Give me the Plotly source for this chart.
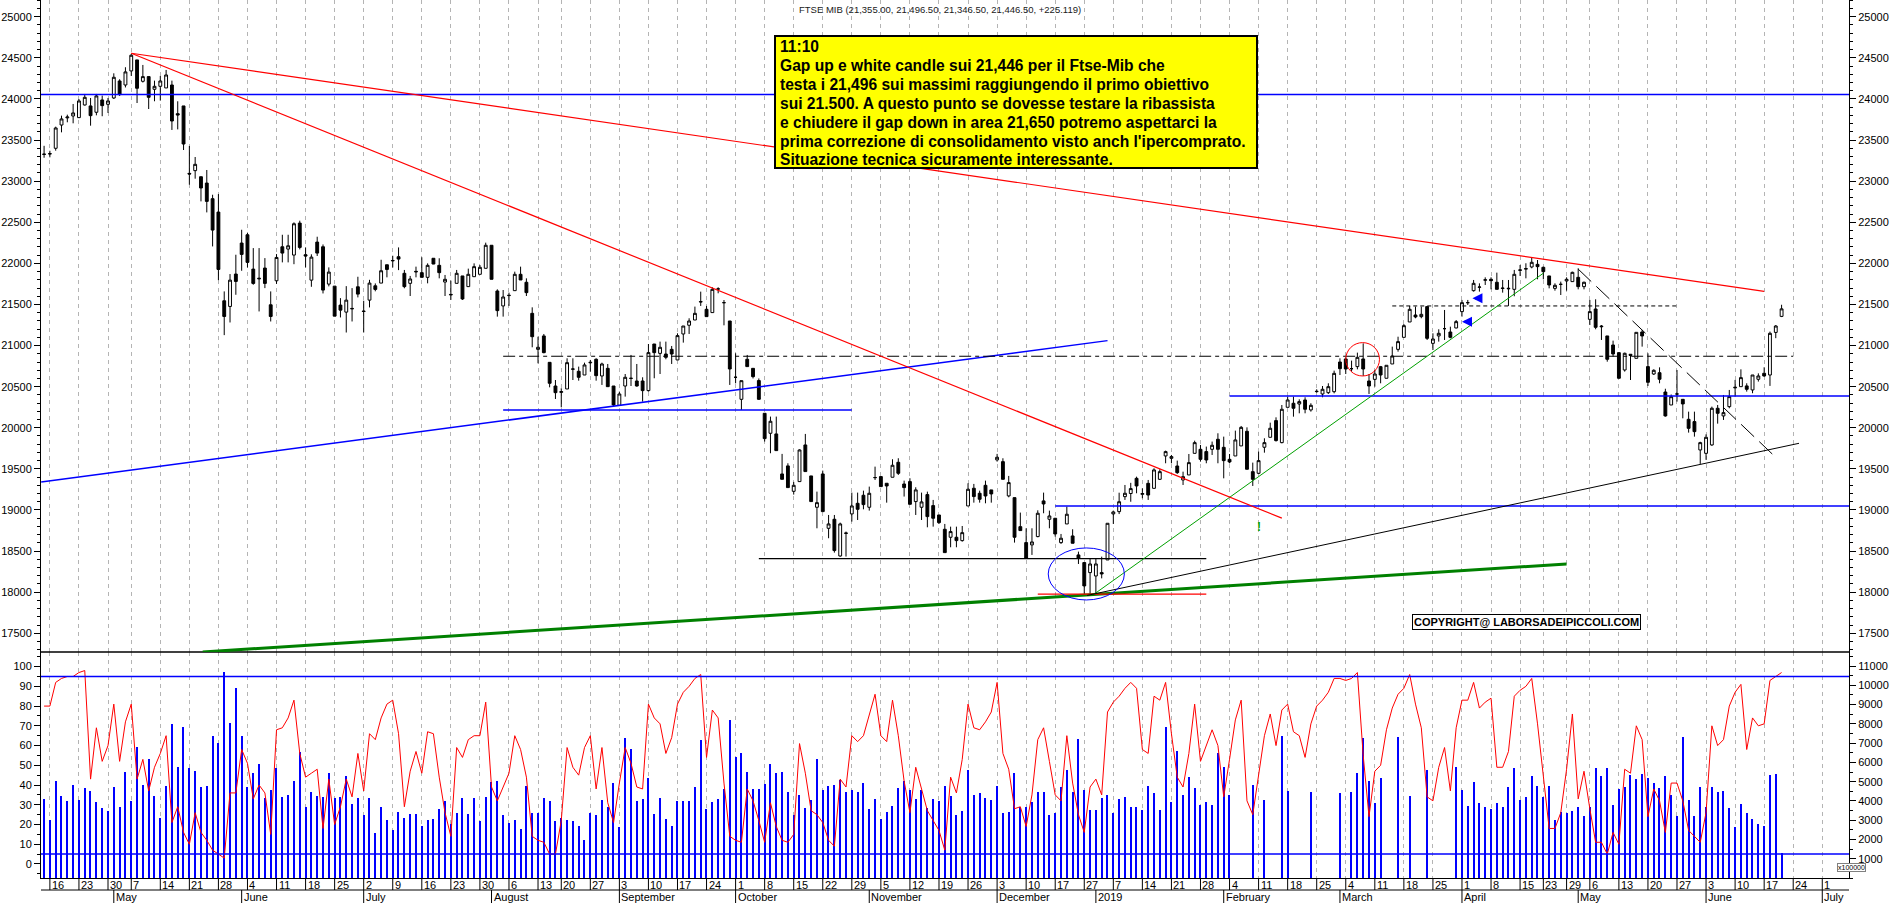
import plotly.graph_objects as go
import pandas as pd

# ---------------- data ----------------
HOLIDAYS = ["2018-05-01", "2018-08-15", "2018-12-24", "2018-12-25", "2018-12-26",
            "2018-12-31", "2019-01-01", "2019-04-19", "2019-04-22", "2019-05-01"]
GRID_SKIP = ["2019-01-02"]
START_DATE, END_DATE = "2018-04-13", "2019-07-12"

OPEN = [23330, 23330, 23400, 23683, 23770, 23793, 23773, 23927, 23915, 23838,
        23988, 23935, 24012, 24219, 24170, 24341, 24475, 24215, 24272, 24118,
        24154, 24134, 24170, 23821, 23915, 23095, 23128, 23054, 22977, 22787,
        22624, 21545, 21476, 21870, 22247, 22348, 21930, 21820, 21943, 21496,
        21788, 22202, 22174, 22101, 22490, 22105, 21796, 22259, 22202, 21748,
        21723, 21492, 21407, 21452, 21715, 21420, 21553, 21727, 21760, 21983,
        22030, 22081, 21879, 21757, 21895, 21887, 21830, 22062, 21976, 21773,
        21615, 21757, 21847, 21717, 21838, 21867, 21940, 22220, 21664, 21482,
        21608, 21668, 21867, 21770, 21392, 20954, 21117, 20796, 20508, 20430,
        20472, 20712, 20687, 20642, 20790, 20833, 20630, 20723, 20508, 20273,
        20508, 20600, 20569, 20569, 20452, 21019, 20905, 20897, 20954, 20825,
        21141, 21247, 21311, 21530, 21441, 21401, 21689, 21522, 21299, 20614,
        20346, 20833, 20723, 20574, 20176, 19933, 19925, 19438, 19536, 19227,
        19345, 19791, 19414, 19033, 19438, 18777, 18887, 18440, 18720, 18952,
        19081, 19179, 19033, 19394, 19406, 19325, 19398, 19580, 19316, 19345,
        19102, 19033, 19187, 19053, 18939, 18765, 18668, 18668, 18627, 19049,
        19264, 19203, 19300, 19244, 19609, 19588, 19171, 19150, 18797, 18603,
        18575, 18676, 19110, 18887, 18899, 18603, 18830, 18684, 18453, 18360,
        18238, 18197, 18238, 18392, 18952, 18980, 19162, 19200, 19385, 19190,
        19324, 19263, 19373, 19657, 19628, 19535, 19365, 19426, 19689, 19738,
        19710, 19738, 19860, 19762, 19616, 19657, 19779, 19957, 19466, 19446,
        19763, 19884, 20087, 19819, 20249, 20298, 20289, 20338, 20217, 20440,
        20411, 20427, 20439, 20800, 20837, 20719, 20744, 20837, 20569, 20589,
        20743, 20602, 20776, 20954, 21100, 21287, 21372, 21352, 21474, 21027,
        21117, 21206, 21165, 21214, 21413, 21522, 21668, 21709, 21795, 21806,
        21770, 21700, 21690, 21684, 21915, 21930, 21956, 21988, 21952, 21847,
        21696, 21745, 21786, 21778, 21830, 21717, 21319, 21445, 21238, 21117,
        21007, 20914, 20703, 20894, 20845, 21165, 20744, 20654, 20670, 20435,
        20277, 20411, 20346, 20103, 20075, 19730, 19689, 19791, 20237, 20144,
        20257, 20485, 20500, 20509, 20460, 20590, 20663, 20642, 21160, 21355.0]
HIGH = [23430, 23370, 23663, 23797, 23809, 23939, 24000, 24061, 24012, 24061,
        24041, 24012, 24312, 24240, 24386, 24548, 24475, 24414, 24272, 24223,
        24280, 24353, 24223, 23972, 23915, 23428, 23294, 23054, 23136, 22835,
        22843, 21659, 21870, 22105, 22409, 22370, 22186, 22186, 22064, 21659,
        22113, 22348, 22348, 22499, 22519, 22194, 22110, 22324, 22230, 21951,
        21723, 21577, 21723, 21699, 21837, 21545, 21800, 21756, 22044, 21983,
        22093, 22194, 21920, 21847, 21960, 22074, 22000, 22062, 22062, 21859,
        21790, 21920, 21847, 21936, 22000, 21980, 22252, 22220, 21684, 21676,
        21644, 21899, 21960, 21818, 21465, 21108, 21141, 20796, 20581, 20480,
        20845, 20845, 20744, 20792, 20825, 20845, 20792, 20776, 20508, 20440,
        20654, 20886, 20776, 20614, 21019, 21019, 21048, 21048, 20995, 21149,
        21238, 21332, 21474, 21656, 21482, 21709, 21709, 21554, 21299, 20906,
        20573, 20886, 20723, 20600, 20176, 20136, 20136, 19682, 19568, 19341,
        19738, 19925, 19414, 19223, 19479, 18939, 18939, 18846, 18737, 19211,
        19211, 19235, 19284, 19527, 19406, 19325, 19617, 19629, 19357, 19386,
        19276, 19211, 19223, 19122, 18939, 18830, 18797, 18797, 18805, 19325,
        19317, 19235, 19357, 19244, 19682, 19629, 19414, 19150, 18968, 18777,
        18777, 18996, 19211, 18992, 18899, 18708, 19041, 18765, 18493, 18360,
        18412, 18412, 18432, 18838, 18992, 19210, 19304, 19330, 19405, 19263,
        19365, 19507, 19495, 19722, 19669, 19600, 19466, 19681, 19843, 19791,
        19771, 19832, 19933, 19892, 19681, 19965, 20022, 20005, 19576, 19710,
        19872, 20062, 20127, 20277, 20379, 20379, 20346, 20371, 20298, 20468,
        20508, 20541, 20695, 20845, 20857, 20817, 20914, 21027, 20654, 20703,
        20752, 20760, 20987, 21108, 21262, 21482, 21474, 21474, 21474, 21149,
        21198, 21433, 21230, 21311, 21555, 21555, 21798, 21757, 21830, 21830,
        21887, 21798, 21798, 21920, 21980, 22001, 22074, 22041, 21960, 21847,
        21757, 21778, 21830, 21899, 21940, 21778, 21555, 21563, 21250, 21117,
        21060, 20914, 20914, 20894, 21161, 21190, 20906, 20711, 20735, 20475,
        20405, 20703, 20346, 20196, 20196, 19830, 19920, 20257, 20277, 20399,
        20460, 20582, 20711, 20541, 20642, 20662, 20736, 21170, 21250, 21496.5]
LOW = [23285, 23290, 23371, 23594, 23716, 23704, 23769, 23920, 23675, 23801,
       23790, 23830, 24000, 24037, 24140, 24280, 23951, 24200, 23878, 23972,
       23980, 24134, 23623, 23630, 23379, 22957, 23030, 22754, 22620, 22206,
       21796, 21127, 21281, 21618, 21910, 21950, 21740, 21415, 21699, 21293,
       21750, 22012, 22012, 21990, 22170, 21951, 21715, 22090, 21634, 21720,
       21358, 21342, 21159, 21293, 21586, 21159, 21464, 21660, 21760, 21830,
       21950, 21918, 21697, 21603, 21830, 21830, 21757, 21990, 21818, 21603,
       21555, 21757, 21555, 21717, 21838, 21867, 21940, 21806, 21352, 21352,
       21482, 21668, 21798, 21603, 20979, 20784, 20906, 20492, 20350, 20249,
       20472, 20581, 20573, 20642, 20683, 20573, 20521, 20500, 20265, 20273,
       20379, 20508, 20500, 20318, 20440, 20602, 20654, 20833, 20776, 20825,
       21036, 21141, 21311, 21482, 21352, 21401, 21636, 21246, 20521, 20541,
       20216, 20744, 20600, 20338, 19832, 19690, 19722, 19373, 19272, 19187,
       19345, 19467, 19102, 18777, 18980, 18656, 18481, 18432, 18433, 18858,
       18878, 19008, 18992, 19365, 19284, 19089, 19398, 19426, 19163, 19069,
       18939, 18878, 18789, 18797, 18830, 18481, 18546, 18546, 18615, 19049,
       19089, 19089, 19081, 19089, 19588, 19373, 19154, 18603, 18749, 18412,
       18453, 18668, 18960, 18777, 18676, 18587, 18830, 18595, 18343, 17966,
       17966, 17966, 18168, 18392, 18830, 18950, 19122, 19100, 19203, 19142,
       19122, 19263, 19365, 19568, 19568, 19438, 19304, 19426, 19689, 19588,
       19568, 19669, 19568, 19385, 19568, 19657, 19779, 19495, 19292, 19438,
       19697, 19884, 19832, 19811, 20249, 20135, 20176, 20176, 20196, 20427,
       20371, 20411, 20419, 20642, 20654, 20683, 20711, 20630, 20411, 20500,
       20541, 20602, 20776, 20926, 21100, 21287, 21332, 21332, 21068, 20946,
       21048, 21068, 21088, 21210, 21352, 21494, 21656, 21656, 21737, 21684,
       21684, 21644, 21482, 21600, 21847, 21818, 21940, 21806, 21806, 21696,
       21668, 21615, 21668, 21778, 21684, 21684, 21250, 21198, 21068, 20804,
       20865, 20600, 20683, 20581, 20845, 20987, 20508, 20642, 20541, 20135,
       20277, 20318, 20115, 19941, 19892, 19560, 19610, 19780, 20050, 20095,
       20237, 20379, 20500, 20440, 20420, 20562, 20622, 20509, 21090, 21346.5]
CLOSE = [23326, 23335, 23647, 23757, 23780, 23830, 23976, 24020, 23797, 24037,
         23919, 23976, 24264, 24053, 24329, 24532, 24130, 24272, 24020, 24154,
         24219, 24292, 23732, 23805, 23452, 23087, 23205, 22917, 22754, 22405,
         21926, 21354, 21796, 21780, 22109, 22012, 21756, 21813, 21756, 21354,
         22072, 22125, 22214, 22482, 22194, 22089, 22076, 22125, 21675, 21894,
         21358, 21431, 21553, 21448, 21626, 21415, 21760, 21683, 21910, 21926,
         22035, 22052, 21717, 21810, 21902, 21830, 21976, 21992, 21887, 21806,
         21622, 21879, 21567, 21867, 21960, 21952, 22220, 21806, 21425, 21591,
         21611, 21867, 21798, 21644, 21108, 20979, 20914, 20541, 20427, 20440,
         20792, 20715, 20614, 20764, 20796, 20634, 20776, 20500, 20277, 20411,
         20614, 20602, 20508, 20452, 20914, 20914, 20979, 20857, 20897, 21121,
         21238, 21299, 21392, 21534, 21352, 21684, 21689, 21522, 20715, 20614,
         20573, 20744, 20622, 20346, 19868, 20079, 19722, 19373, 19272, 19300,
         19730, 19467, 19102, 19089, 18980, 18830, 18506, 18830, 18716, 19049,
         19008, 19065, 19203, 19394, 19284, 19292, 19544, 19446, 19272, 19069,
         19244, 19098, 18919, 18899, 18846, 18481, 18737, 18627, 18724, 19252,
         19163, 19130, 19170, 19195, 19641, 19373, 19333, 18668, 18749, 18412,
         18611, 18960, 19073, 18927, 18708, 18656, 18948, 18595, 18412, 18076,
         18343, 18343, 18222, 18838, 18976, 19100, 19203, 19260, 19292, 19200,
         19182, 19487, 19466, 19710, 19649, 19454, 19405, 19576, 19819, 19616,
         19608, 19787, 19738, 19600, 19584, 19852, 20005, 19495, 19373, 19600,
         19819, 19994, 19844, 20225, 20338, 20237, 20318, 20225, 20273, 20443,
         20468, 20500, 20662, 20719, 20715, 20719, 20857, 20715, 20508, 20654,
         20642, 20760, 20873, 21048, 21242, 21441, 21348, 21380, 21088, 21080,
         21149, 21206, 21100, 21291, 21522, 21522, 21757, 21712, 21800, 21790,
         21684, 21696, 21696, 21867, 21920, 21936, 22013, 21960, 21899, 21737,
         21733, 21745, 21806, 21891, 21717, 21770, 21413, 21222, 21230, 20833,
         20898, 20602, 20906, 20880, 21161, 21117, 20553, 20699, 20590, 20144,
         20378, 20411, 20290, 19993, 19953, 19819, 19884, 20237, 20176, 20184,
         20379, 20492, 20610, 20468, 20642, 20630, 20630, 21149, 21238, 21446.5]
LAST_CHANGE = 225.119

OSC = [80, 80, 92, 94, 95, 95, 97, 98, 43, 69,
       52, 60, 81, 52, 72, 81, 43, 53, 37, 49,
       56, 65, 21, 29, 16, 10, 26, 16, 12, 7,
       5, 3, 36, 36, 58, 51, 33, 40, 36, 15,
       68, 69, 74, 83, 56, 44, 46, 48, 18, 43,
       20, 29, 43, 34, 56, 37, 66, 63, 74, 81,
       83, 66, 29, 47, 57, 46, 67, 66, 44, 26,
       14, 59, 54, 63, 65, 65, 82, 39, 32, 39,
       46, 65, 58, 44, 14, 12, 11, 5, 5, 22,
       59, 49, 45, 59, 65, 38, 59, 31, 21, 41,
       59, 51, 39, 38, 81, 74, 71, 56, 64, 81,
       87, 90, 94,
       96, 54, 78, 74, 41, 14, 12, 11, 38, 32,
       22, 11, 31, 19, 12, 11, 15, 61, 46, 27,
       25, 21, 12, 9, 43, 39, 65, 62, 65, 76,
       86, 65, 62, 83, 65, 42, 26, 49, 38, 27,
       22, 17, 7, 44, 36, 53, 81, 69, 68, 72,
       77, 92, 56, 48, 28, 29, 19, 35, 63, 69,
       52, 35, 32, 65, 41, 25, 16, 39, 43, 35,
       77, 82, 85, 89, 92, 89, 58, 56, 85, 83,
       92, 66, 44, 39, 56, 81, 52, 60, 68, 60,
       34, 53, 73, 83, 32, 25, 44, 65, 76, 60,
       78, 81, 67, 65, 54, 71, 80, 83, 87, 94,
       94, 93, 94, 97, 55, 24, 47, 50, 68, 79,
       86, 89, 96, 81, 69, 34, 32, 49, 59, 37,
       69, 83, 83, 92, 79, 82, 84, 49, 49, 57,
       85, 88, 90, 94, 71, 44, 18, 18, 26, 48,
       76, 33, 47, 28, 11, 11, 5, 16, 10, 48,
       46, 70, 63, 24, 38, 32, 16, 41, 41, 32,
       17, 14, 11, 26, 70, 60, 63, 80, 87, 91,
       58, 74, 70, 71, 93, 95, 97]

N = None
VOLUME = [4091, 3021, 5041, 4264, 4005, 4834, 4057, 4696, 4523, 3953,
          3642, 3487, 4748, 3711, 5508, 4005, 6803, 4834, 6181, 4264,
          3124, 4782, 7994, 5767, 7839, 5732, 5559, 4730, 4799, 7373,
          7027, 10689, 8063, 9860, 7373, 4730, 5456, 5922, 4160, 4575,
          5715, 4212, 4316, 5058, 6544, 3694, 4471, 4264, 4212, 5438,
          4178, 4212, 5300, 3832, 4160, 3280, 4160, 2330, 3694, 3021,
          2502, 3435, 3124, 3331, 3331, 2710, 3021, 3055, 3590, 4005,
          2813, 3366, 4143, 3331, 4178, 2934, 4229, 5007, 5041, 3280,
          2865, 3021, 2554, 4782, 3383, 3383, 4160, 4022, 2952, 3124,
          3003, 2969, 2675, 1967, 3383, 3245, 4040, 3694, 4938, 2641,
          7269, 6716, 4005, 4126, 5214, 3331, 4160, 3072, 2675, 4022,
          4022, 4022, 4748,
          7165, 3573, 3953, 4091, 4609, 8202, 6302, 6475, 5490, 4627,
          4627, 4886, 5922, 5473, 5508, 4489, 3245, 4316, 3625, 4057,
          6181, 4575, 4799, 4834, 5093, 4489, 4575, 4489, 4920, 3590,
          4109, 3072, 3418, 3746, 4661, 5058, 4575, 4109, 4575, 3625,
          4109, 4022, 4782, 4281, 3280, 3487, 5611, 4316, 4437, 4143,
          4057, 4799, 3366, 3418, 5438, 3677, 3660, 3970, 4489, 4489,
          3245, 3366, 4748, 5611, 4454, 7217, 4575, 3539, 3539, 4143,
          4316, 3366, 4109, 4229, 3677, 3711, 3539, 4799, 4437, 3539,
          7822, 3936, 6613, 4316, 5266, 4661, 3798, 3919, 3798, 6475,
          5784, 4316,
          N, N, N, 4834, N, 4057, N, N, 7390, 4540,
          N, N, N, 4489, N, N, N, N, 4437, N,
          4489, 5473, 7286, 5058, 3884, 5179, N, N, 7338, N,
          4281, N, N, 5628, N, N, N, N, 5784, 4575,
          3763, 5007, 3867, 3711, 3590, 3867, 3660, 4748, 5697, 4057,
          4229, 5300, 4799, 4195, 4799, 3021, 3400, 3366, 3487, 3711,
          3193, 3694, 5732, 5300, 5697, 3815, 4627, 4748, 5352, 5145,
          5404, 5179, 4920, 4661, 5300, 4333, 3193, 7338, 4057, 3228,
          4748, 3711, 4748, 4489, 4523, 3608, 2623, 3850, 3383, 3072,
          2813, 2675, 5352, 5404, 1294]

# analyst drawings: (start day index, start price, end day index, end price)
RED_TRENDS = [(15, 24556, 296, 21660), (15, 24556, 213, 18900)]
BLUE_RISING = (-0.5, 19340, 183, 21060)
BLUE_LEVELS = [(-0.53, 310.6, 24055), (79, 139, 20216), (174, 310.6, 19049), (204, 310.6, 20387)]
BLACK_LEVEL = (123, 200, 18408)
DASHDOT_LEVEL = (79, 301, 20870)
DOTTED_LEVEL = (232, 281, 21482)
RED_LEVEL = (171, 200, 17975)
GREEN_THIN = (180.5, 17966, 258, 21880)
BLACK_THIN = (179.5, 17960, 302, 19811)
GREEN_THICK = (27.3, 17272, 262, 18343)
DASHED_DOWN = (264, 21930, 298, 19640)
BLUE_ELLIPSE = (172.8, 17905, 185.9, 18538)
RED_CIRCLE = (224.0, 20630, 229.8, 21036)
ARROWS = [(245.8, 21575), (244.0, 21290)]
MARK = (209.1, 18796)
OSC_LEVELS = [95, 5]

NOTE_LINES = ["11:10",
              "Gap up e white candle sui 21,446 per il Ftse-Mib che",
              "testa i 21,496 sui massimi raggiungendo il primo obiettivo",
              "sui 21.500. A questo punto se dovesse testare la ribassista",
              "e chiudere il gap down in area 21,650 potremo aspettarci la",
              "prima correzione di consolidamento visto anch l'ipercomprato.",
              "Situazione tecnica sicuramente interessante."]
COPYRIGHT = "COPYRIGHT@ LABORSADEIPICCOLI.COM"

PRICE_TICKS = list(range(17500, 25001, 500))
OSC_TICKS = list(range(0, 101, 10))
VOL_TICKS = list(range(1000, 11001, 1000))

# ---------------- layout constants ----------------
W, H = 1890, 903
ML, MR, MT, MB = 41, 41, 0, 25
PW, PH = W - ML - MR, H - MT - MB
X_RANGE = [-0.53, 310.6]
PRICE_RANGE = [17272, 25204]
OSC_RANGE = [-7.1, 107.4]
VOL_RANGE = [0, 11730]
SPLIT = 0.2574
ROW1_Y, ROW2_Y, ROW_DIV, ROW_END = -0.008, -0.0222, -0.01367, -0.0285
FONT = "Liberation Sans, Arial, sans-serif"
GRID = "#b4b4b4"
NOTE_BOX = (775, 36, 1257, 168)  # pixel box of the comment
NOTE_TEXT_X, NOTE_FIRST_Y, NOTE_STEP = 779, 46.5, 18.9


def px_x(p):
    return (p - ML) / PW


def px_y(p):
    return 1 - (p - MT) / PH


cal = [d for d in pd.bdate_range(START_DATE, END_DATE) if d.strftime("%Y-%m-%d") not in HOLIDAYS]
n = len(CLOSE)
t = list(range(n))

week_idx = [i for i in range(1, len(cal))
            if cal[i].isocalendar()[1] != cal[i - 1].isocalendar()[1]
            and cal[i].strftime("%Y-%m-%d") not in GRID_SKIP and i <= X_RANGE[1]]
month_idx = [i for i in range(1, len(cal)) if cal[i].month != cal[i - 1].month and i <= X_RANGE[1]]

fig = go.Figure()

fig.add_trace(go.Bar(x=t, y=VOLUME, width=0.2, marker=dict(color="#0000ff", line=dict(width=0)),
                     xaxis="x", yaxis="y3", hoverinfo="skip"))
fig.add_trace(go.Scatter(x=t, y=OSC, mode="lines", line=dict(color="#ff0000", width=1),
                         xaxis="x", yaxis="y4", hoverinfo="skip"))
fig.add_trace(go.Candlestick(x=t, open=OPEN, high=HIGH, low=LOW, close=CLOSE,
                             increasing=dict(line=dict(color="black", width=1), fillcolor="white"),
                             decreasing=dict(line=dict(color="black", width=1), fillcolor="black"),
                             whiskerwidth=0, xaxis="x", yaxis="y", hoverinfo="skip"))
fig.add_trace(go.Scatter(x=[t[-1]], y=[CLOSE[-1]], mode="markers", marker=dict(opacity=0),
                         xaxis="x", yaxis="y2", hoverinfo="skip"))

axis_common = dict(showgrid=False, zeroline=False, showline=True, linecolor="black", linewidth=1,
                   ticks="outside", ticklen=6, tickcolor="black",
                   tickfont=dict(family=FONT, size=11, color="black"))

fig.update_layout(
    width=W, height=H, margin=dict(l=ML, r=MR, t=MT, b=MB),
    paper_bgcolor="white", plot_bgcolor="white", showlegend=False, bargap=0,
    font=dict(family=FONT, color="black"),
    xaxis=dict(domain=[0, 1], range=X_RANGE, anchor="y3", tickvals=week_idx, showticklabels=False,
               ticks="", showgrid=True, gridcolor=GRID, griddash="4px,4px", gridwidth=1,
               zeroline=False, showline=True, linecolor="black", rangeslider=dict(visible=False)),
    yaxis=dict(domain=[SPLIT, 1], range=PRICE_RANGE, anchor="x", side="left",
               tickvals=PRICE_TICKS, ticktext=[str(v) for v in PRICE_TICKS],
               minor=dict(dtick=100, tick0=0, ticks="outside", ticklen=3, tickcolor="black"),
               **axis_common),
    yaxis2=dict(range=PRICE_RANGE, overlaying="y", anchor="x", side="right",
                tickvals=PRICE_TICKS, ticktext=[str(v) for v in PRICE_TICKS],
                minor=dict(dtick=100, tick0=0, ticks="outside", ticklen=3, tickcolor="black"),
                **axis_common),
    yaxis3=dict(domain=[0, SPLIT], range=VOL_RANGE, anchor="x", side="right",
                tickvals=VOL_TICKS, ticktext=[str(v) for v in VOL_TICKS],
                minor=dict(dtick=500, tick0=0, ticks="outside", ticklen=3, tickcolor="black"),
                **axis_common),
    yaxis4=dict(range=OSC_RANGE, overlaying="y3", anchor="x", side="left",
                tickvals=OSC_TICKS, ticktext=[str(v) for v in OSC_TICKS],
                minor=dict(dtick=5, tick0=0, ticks="outside", ticklen=3, tickcolor="black"),
                **axis_common),
)


def seg(x0, y0, x1, y1, color, width=1.0, dash="solid", yref="y"):
    fig.add_shape(type="line", xref="x", yref=yref, x0=x0, y0=y0, x1=x1, y1=y1,
                  line=dict(color=color, width=width, dash=dash))


# panel separators and date rows
fig.add_shape(type="line", xref="paper", yref="paper", x0=0, x1=1, y0=SPLIT, y1=SPLIT,
              line=dict(color="black", width=1.5))
fig.add_shape(type="line", xref="paper", yref="paper", x0=0, x1=1, y0=ROW_DIV, y1=ROW_DIV,
              line=dict(color="black", width=1))
for i in week_idx:
    fig.add_shape(type="line", xref="x", yref="paper", x0=i, x1=i, y0=0, y1=ROW_DIV,
                  line=dict(color="black", width=1))
    fig.add_annotation(x=i, y=ROW1_Y, xref="x", yref="paper", text=str(cal[i].day), showarrow=False,
                       xanchor="left", yanchor="middle", font=dict(family=FONT, size=11, color="black"))
for i in month_idx:
    fig.add_shape(type="line", xref="x", yref="paper", x0=i, x1=i, y0=ROW_DIV, y1=ROW_END,
                  line=dict(color="black", width=1))
    label = str(cal[i].year) if cal[i].month == 1 else cal[i].strftime("%B")
    fig.add_annotation(x=i, y=ROW2_Y, xref="x", yref="paper", text=label, showarrow=False,
                       xanchor="left", yanchor="middle", font=dict(family=FONT, size=11, color="black"))

# oscillator levels
for lv in OSC_LEVELS:
    fig.add_shape(type="line", xref="paper", yref="y4", x0=0, x1=1, y0=lv, y1=lv,
                  line=dict(color="#0000ff", width=1.5))

# trend lines
GT = GREEN_THICK
seg(GT[0], GT[1], GT[2], GT[3], "#008000", 3)
for x0, x1, p in BLUE_LEVELS:
    seg(x0, p, x1, p, "#0000ff", 1.5)
seg(*BLUE_RISING, "#0000ff", 1.5)
seg(BLACK_LEVEL[0], BLACK_LEVEL[2], BLACK_LEVEL[1], BLACK_LEVEL[2], "black", 1.2)
seg(DASHDOT_LEVEL[0], DASHDOT_LEVEL[2], DASHDOT_LEVEL[1], DASHDOT_LEVEL[2], "black", 1.2, "12px,4px,4px,4px")
seg(DOTTED_LEVEL[0], DOTTED_LEVEL[2], DOTTED_LEVEL[1], DOTTED_LEVEL[2], "black", 1, "4px,3px")
seg(RED_LEVEL[0], RED_LEVEL[2], RED_LEVEL[1], RED_LEVEL[2], "#ff0000", 1.2)
seg(*GREEN_THIN, "#00a000", 1)
seg(*BLACK_THIN, "black", 1)
seg(*DASHED_DOWN, "black", 1, "18px,7px")
for r in RED_TRENDS:
    seg(*r, "#ff0000", 1.2)
fig.add_shape(type="circle", xref="x", yref="y", x0=BLUE_ELLIPSE[0], y0=BLUE_ELLIPSE[1],
              x1=BLUE_ELLIPSE[2], y1=BLUE_ELLIPSE[3], line=dict(color="#0000ff", width=1))
fig.add_shape(type="circle", xref="x", yref="y", x0=RED_CIRCLE[0], y0=RED_CIRCLE[1],
              x1=RED_CIRCLE[2], y1=RED_CIRCLE[3], line=dict(color="#ff0000", width=1))

for ax_, ay_ in ARROWS:
    fig.add_annotation(x=ax_, y=ay_, xref="x", yref="y", ax=11, ay=0, text="", showarrow=True,
                       arrowhead=2, arrowsize=0.8, arrowwidth=2.5, arrowcolor="#0000ff")
fig.add_annotation(x=MARK[0], y=MARK[1], xref="x", yref="y", text="<b>!</b>", showarrow=False,
                   font=dict(family=FONT, size=12, color="#00a000"))

# comment box (drawn over the trend lines)
fig.add_shape(type="rect", xref="paper", yref="paper",
              x0=px_x(NOTE_BOX[0]), x1=px_x(NOTE_BOX[2]), y0=px_y(NOTE_BOX[3]), y1=px_y(NOTE_BOX[1]),
              fillcolor="#ffff00", line=dict(color="black", width=2))
for k, line in enumerate(NOTE_LINES):
    fig.add_annotation(x=px_x(NOTE_TEXT_X), y=px_y(NOTE_FIRST_Y + k * NOTE_STEP), xref="paper",
                       yref="paper", text="<b>" + line + "</b>", showarrow=False,
                       xanchor="left", yanchor="middle", borderpad=0,
                       font=dict(family=FONT, size=15.6, color="black"))

# texts
title = "FTSE MIB ({:,.2f}, {:,.2f}, {:,.2f}, {:,.2f}, {:+.3f})".format(
    OPEN[-1], HIGH[-1], LOW[-1], CLOSE[-1], LAST_CHANGE)
fig.add_annotation(x=px_x(797), y=px_y(9), xref="paper", yref="paper", text=title,
                   showarrow=False, xanchor="left", yanchor="middle",
                   font=dict(family=FONT, size=9.5, color="#202020"))
fig.add_annotation(x=px_x(1641), y=px_y(630), xref="paper", yref="paper",
                   text="<b>" + COPYRIGHT + "</b>", showarrow=False, bgcolor="white",
                   bordercolor="black", borderwidth=1, borderpad=1,
                   font=dict(family=FONT, size=11, color="black"))
fig.add_annotation(x=px_x(1866), y=px_y(872), xref="paper", yref="paper",
                   text="x100000", showarrow=False, bgcolor="white", bordercolor="#808080",
                   borderwidth=1, borderpad=0, font=dict(family=FONT, size=7, color="black"))

fig.write_html("out.html")
